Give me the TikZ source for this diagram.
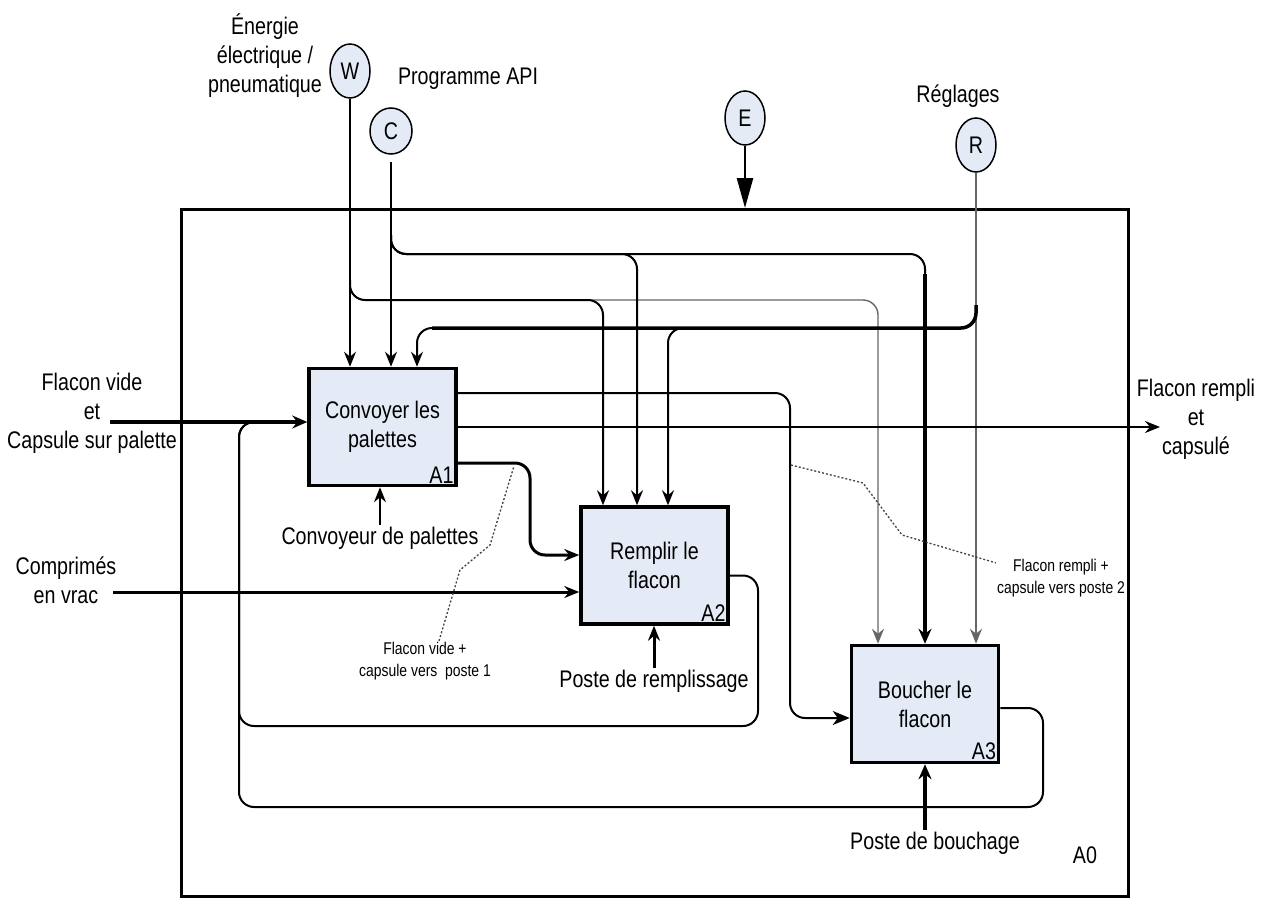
\documentclass[tikz,border=0pt]{standalone}
\usepackage{fontspec}
\setmainfont{Liberation Sans}[FakeStretch=0.82]
\usetikzlibrary{arrows.meta,shapes.geometric}
\definecolor{boxfill}{HTML}{E4EBF6}
\newcommand\lbltxt{\fontsize{24}{29}\selectfont}
\newcommand\notetxt{\fontsize{17}{22}\selectfont}
\tikzset{
  activity/.style={draw,line width=3.5pt,fill=boxfill,minimum width=147pt,
    minimum height=117pt,align=center,font=\lbltxt},
  tunnel/.style={ellipse,draw,line width=1.5pt,fill=boxfill,minimum width=40pt,
    minimum height=54pt,inner sep=0pt,font=\lbltxt},
  lbl/.style={align=center,font=\lbltxt,inner sep=2pt},
  note/.style={align=center,font=\notetxt,inner sep=1pt},
  ctl/.style={line width=2pt,-{Stealth[length=15pt,width=12pt,inset=5pt]}},
  thinctl/.style={line width=1.4pt,black!60,-{Stealth[length=15pt,width=12pt,inset=5pt]}},
  heavy/.style={line width=3.5pt,-{Stealth[length=15pt,width=13pt,inset=5pt]}},
  fb/.style={line width=2pt},
  dots/.style={line width=1.3pt,black!75,dash pattern=on 2pt off 2pt}
}

\begin{document}
\begin{tikzpicture}[x=1pt,y=-1pt]
  \useasboundingbox (0,0) rectangle (1264,900);

  % A0 frame
  \node [draw,line width=3pt,minimum width=947pt,minimum height=687pt] (A0) at (655,553) {};
  \node [lbl] (a0lbl) at (1085,855) {A0};

  % activities
  \node [activity,label={[anchor=south east,inner sep=4pt,font=\lbltxt]south east:A1}] (A1) at (382.5,427) {Convoyer les\\palettes};
  \node [activity,label={[anchor=south east,inner sep=4pt,font=\lbltxt]south east:A2}] (A2) at (654.5,565.5) {Remplir le\\flacon};
  \node [activity,label={[anchor=south east,inner sep=4pt,font=\lbltxt]south east:A3}] (A3) at (925,704) {Boucher le\\flacon};

  % tunnels
  \node [tunnel] (W) at (350,71) {W};
  \node [tunnel,minimum width=42pt,minimum height=46pt] (C) at (391,131) {C};
  \node [tunnel] (E) at (745,118) {E};
  \node [tunnel] (R) at (976,145) {R};

  \node [lbl] (wlbl) at (265,56) {Énergie\\électrique /\\pneumatique};
  \node [lbl] (clbl) at (468,79) {Programme API};
  \node [lbl] (rlbl) at (958,96) {Réglages};

  % inputs / outputs labels
  \node [lbl] (inlbl) at (92,413) {Flacon vide\\et\\Capsule sur palette};
  \node [lbl] (cvlbl) at (66,580) {Comprimés\\en vrac};
  \node [lbl] (outlbl) at (1196,419) {Flacon rempli\\et\\capsulé};

  % mechanisms
  \node [lbl] (conv) at (380,538) {Convoyeur de palettes};
  \node [lbl] (rempl) at (654,681) {Poste de remplissage};
  \node [lbl] (bouch) at (935,843) {Poste de bouchage};

  % notes
  \node [note] (n1) at (425,661) {Flacon vide +\\capsule vers\ \ poste 1};
  \node [note] (n2) at (1061,578) {Flacon rempli +\\capsule vers poste 2};

  \coordinate (wsplit) at (350,280);
  \coordinate (wA2) at (603,300);
  \coordinate (wA3) at (878,300);
  \coordinate (csplit) at (391,235);
  \coordinate (cA2) at (637,254);
  \coordinate (cA3) at (925,254);
  \coordinate (rsplit) at (976,305);
  \coordinate (rA1) at (417,328);
  \coordinate (rA2) at (668,328);
  \coordinate (fvin) at (110,422);
  \coordinate (cvin) at (113,592);
  \coordinate (out) at (1160,427);
  \coordinate (a1a2) at (530,555);
  \coordinate (a1a3) at (790,718);
  \coordinate (back) at (239,422);
  \coordinate (fb1) at (758,726);
  \coordinate (fb2) at (1043,807);
  \coordinate (d1) at (514,466);
  \coordinate (d2) at (791,465);

  % controls
  \draw [-{Triangle[length=30pt,width=16pt]},line width=2.5pt] (E) -- (E |- A0.north);
  \draw [thinctl] (R) -- (R |- A3.north);
  \draw [thinctl,rounded corners=15pt] (wsplit) |- (wA3) -- (wA3 |- A3.north);
  \draw [ctl] (W) -- (W |- A1.north);
  \draw [ctl,rounded corners=15pt] (wsplit) |- (wA2) -- (wA2 |- A2.north);
  \draw [ctl,shorten <=7pt] (C) -- (C |- A1.north);
  \draw [fb,rounded corners=15pt] (csplit) |- (cA3) -- ++(0,22);
  \draw [heavy] ([yshift=-20pt]cA3) -- (cA3 |- A3.north);
  \draw [ctl,rounded corners=15pt] (csplit) |- (cA2) -- (cA2 |- A2.north);
  \draw [line width=3.5pt,rounded corners=15pt] (rsplit) |- ([xshift=15pt]rA1);
  \draw [ctl,rounded corners=15pt] ([xshift=16pt]rA1) -- (rA1) -- (rA1 |- A1.north);
  \draw [ctl,rounded corners=15pt] ([xshift=15pt]rA2) -- (rA2) -- (rA2 |- A2.north);

  % feedback loops
  \draw [fb,rounded corners=15pt] ([yshift=-10pt]A2.east) -| (fb1) -| (back) -- ++(25,0);
  \draw [fb,rounded corners=15pt] ([yshift=-4pt]A3.east) -| (fb2) -| (back) -- ++(25,0);

  % inputs and outputs
  \draw [heavy] (fvin) -- (fvin -| A1.west);
  \draw [ctl,line width=3pt] (cvin) -- (cvin -| A2.west);
  \draw [ctl,line width=2.5pt] (A1.east) -- (out);
  \draw [ctl,line width=3pt,rounded corners=15pt] ([yshift=-36pt]A1.east) -| (a1a2) -- (a1a2 -| A2.west);
  \draw [ctl,rounded corners=15pt,-{Stealth[length=17pt,width=14pt,inset=5pt]}] ([yshift=34pt]A1.east) -| (a1a3) -- (a1a3 -| A3.west);

  % mechanisms
  \draw [ctl] (conv) -- (conv |- A1.south);
  \draw [ctl,line width=3pt] (rempl) -- (rempl |- A2.south);
  \draw [heavy] (A3 |- bouch.north) -- (A3.south);

  % notes
  \draw [dots] ([xshift=14pt]n1.north) -- (460,570) -- (490,545) -- (d1);
  \draw [dots] (d2) -- (863,483) -- (902,535) -- ([yshift=-5pt]n2.north west);
\end{tikzpicture}
\end{document}
